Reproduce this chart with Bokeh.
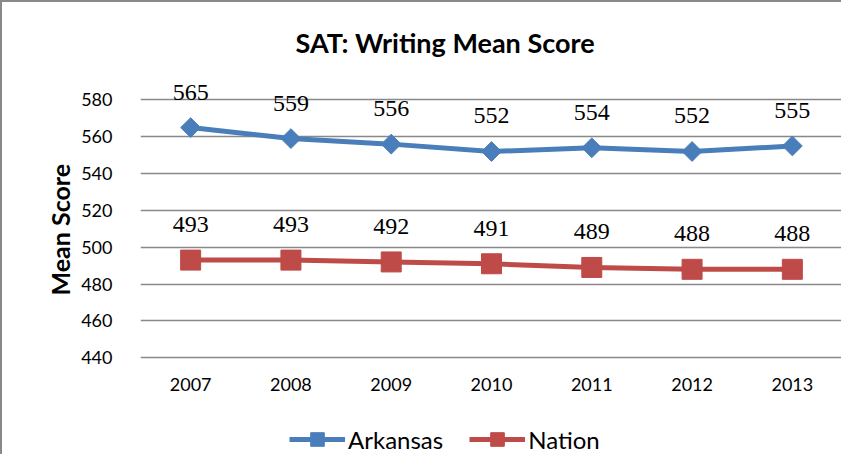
import math
from bokeh.plotting import figure
from bokeh.models import (ColumnDataSource, LabelSet, Legend, LegendItem, FixedTicker, Range1d,
                          FactorRange, Title)
from bokeh.embed import file_html
from bokeh.resources import INLINE

years = ["2007", "2008", "2009", "2010", "2011", "2012", "2013"]
arkansas = [565, 559, 556, 552, 554, 552, 555]
nation = [493, 493, 492, 491, 489, 488, 488]
y_ticks = [440, 460, 480, 500, 520, 540, 560, 580]

FONT = "Lato"
BLUE = "#4A7EBB"
RED = "#BE4B48"
GRID = "#898989"

src_a = ColumnDataSource(dict(x=years, y=arkansas, t=[str(v) for v in arkansas]))
src_n = ColumnDataSource(dict(x=years, y=nation, t=[str(v) for v in nation]))

p = figure(width=841, height=454, x_range=FactorRange(*years), y_range=Range1d(386.3, 596),
           output_backend="svg", toolbar_location=None,
           min_border_left=138, min_border_right=1, min_border_top=68, min_border_bottom=0)
p.styles = {"border-left": "2px solid #898989", "border-top": "2px solid #898989"}
p.outline_line_color = None
p.background_fill_color = "white"
p.border_fill_color = "white"

p.title.text = "SAT: Writing Mean Score"
p.title.text_font = FONT
p.title.text_font_size = "27px"
p.title.text_font_style = "bold"
p.title.text_color = "black"
p.title.align = "left"
p.title.offset = 155
p.title.standoff = 23

la = p.line("x", "y", source=src_a, line_color=BLUE, line_width=5)
ma = p.scatter("x", "y", source=src_a, marker="square", angle=math.pi / 4, size=14,
               fill_color=BLUE, line_color=BLUE)
ln = p.line("x", "y", source=src_n, line_color=RED, line_width=5)
mn = p.scatter("x", "y", source=src_n, marker="square", size=20, fill_color=RED, line_color=RED)

for src in (src_a, src_n):
    p.add_layout(LabelSet(x="x", y="y", text="t", source=src, text_font=FONT,
                          text_font_size="24px", text_color="black", text_align="center",
                          text_baseline="alphabetic", y_offset=28))

p.xgrid.grid_line_color = None
p.ygrid.grid_line_color = GRID
p.ygrid.grid_line_width = 1.5
p.yaxis.ticker = FixedTicker(ticks=y_ticks)
p.yaxis.axis_line_color = None
p.yaxis.major_tick_line_color = None
p.yaxis.minor_tick_line_color = None
p.yaxis.major_label_standoff = 22
p.yaxis.major_label_text_font = FONT
p.yaxis.major_label_text_font_size = "18px"
p.yaxis.major_label_text_color = "black"

ylab = Title(text="Mean Score", align="left", offset=161, standoff=7,
             text_font=FONT, text_font_size="25px", text_font_style="bold", text_color="black")
p.add_layout(ylab, "left")

p.xaxis.fixed_location = 440
p.xaxis.axis_line_color = None
p.xaxis.major_tick_line_color = None
p.xaxis.minor_tick_line_color = None
p.xaxis.major_label_standoff = 14
p.xaxis.major_label_text_font = FONT
p.xaxis.major_label_text_font_size = "18px"
p.xaxis.major_label_text_color = "black"

legend = Legend(items=[LegendItem(label="Arkansas", renderers=[la, ma]),
                       LegendItem(label="Nation", renderers=[ln, mn])],
                location=(149, 0), orientation="horizontal",
                glyph_width=56, glyph_height=34, label_standoff=3, spacing=26,
                padding=0, margin=0, border_line_color=None, background_fill_alpha=0,
                label_text_font=FONT, label_text_font_size="24px", label_text_color="black")
p.add_layout(legend, "center")

open("out.html", "w").write(file_html(p, INLINE))
